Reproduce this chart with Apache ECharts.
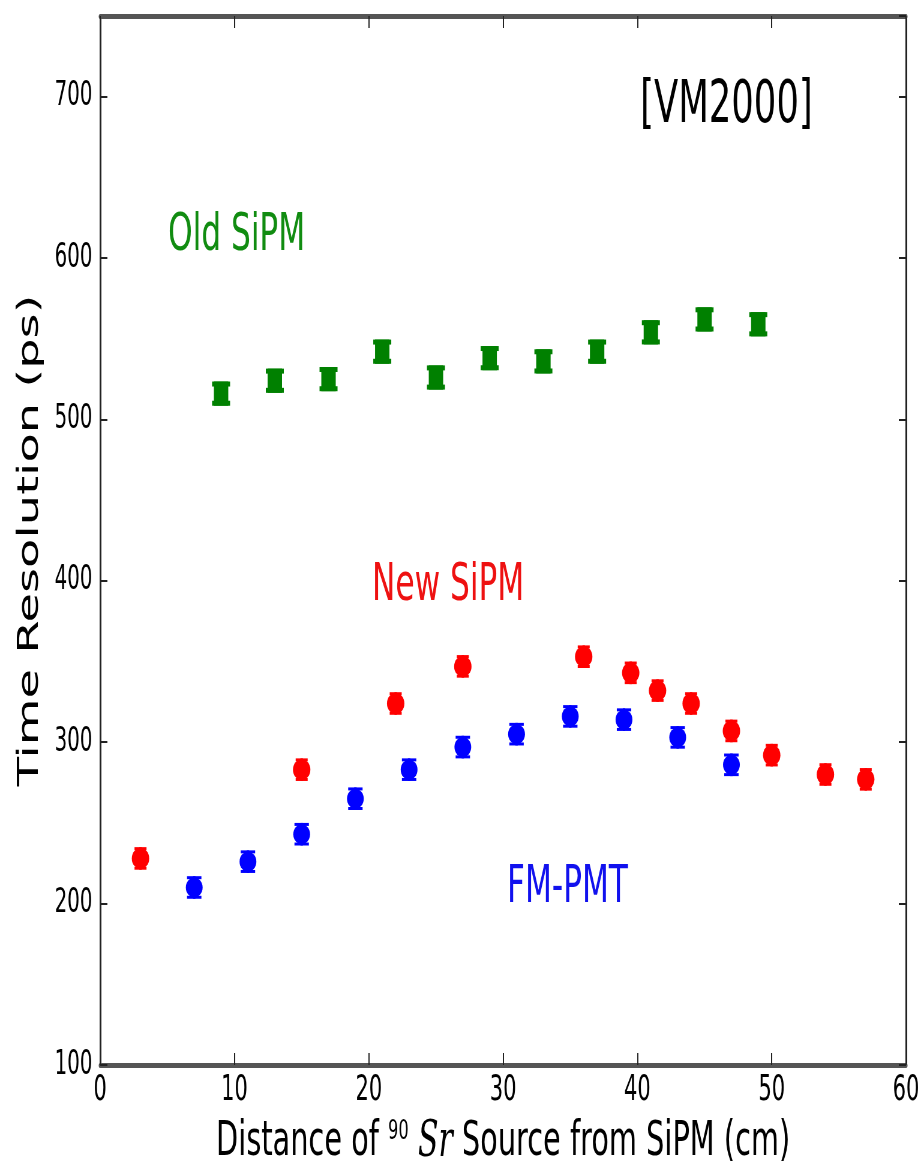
<!DOCTYPE html>
<html><head><meta charset="utf-8">
<script src="https://cdn.jsdelivr.net/npm/echarts@6/dist/echarts.min.js"></script>
<style>
html,body{margin:0;padding:0;background:#fff;overflow:hidden;}
#wrap{width:923px;height:1169px;overflow:hidden;position:relative;background:#fff;}
#chart{width:1538px;height:1169px;transform:scaleX(0.6);transform-origin:0 0;}
</style></head><body>
<div id="wrap"><div id="chart"></div></div>
<script>
// ---- data ----
const oldX   = [9, 13, 17, 21, 25, 29, 33, 37, 41, 45, 49];
const oldY   = [516, 524, 525, 542, 526, 538, 536, 542, 554, 562, 559];
const oldErr = [7.5, 7.5, 7.5, 7.5, 7.5, 7.5, 7.5, 7.5, 7.5, 7.5, 7.5];

const newX   = [3, 15, 22, 27, 36, 39.5, 41.5, 44, 47, 50, 54, 57];
const newY   = [228, 283, 324, 347, 353, 343, 332, 324, 307, 292, 280, 277];
const newErr = [7, 7, 7, 7, 7, 7, 7, 7, 7, 7, 7, 7];

const pmtX   = [7, 11, 15, 19, 23, 27, 31, 35, 39, 43, 47];
const pmtY   = [210, 226, 243, 265, 283, 297, 305, 316, 314, 303, 286];
const pmtErr = [7, 7, 7, 7, 7, 7, 7, 7, 7, 7, 7];

const xTickValues = [0, 10, 20, 30, 40, 50, 60];
const yTickValues = [100, 200, 300, 400, 500, 600, 700];

const labels = {
  tag: '[VM2000]', old: 'Old SiPM', neu: 'New SiPM', pmt: 'FM-PMT'
};
// ----------------------------------------

const FONT = 'DejaVu Sans';
function pts(xs, ys) { return xs.map((x, i) => [x, ys[i]]); }
function errPts(xs, ys, es) { return xs.map((x, i) => [x, ys[i], es[i]]); }

function errRender(color, capW, capH, bodyW) {
  return function (params, api) {
    const x = api.value(0), y = api.value(1), e = api.value(2);
    const top = api.coord([x, y + e]);
    const bot = api.coord([x, y - e]);
    return {
      type: 'group',
      children: [
        { type: 'rect', shape: { x: top[0] - bodyW / 2, y: top[1], width: bodyW, height: bot[1] - top[1] }, style: { fill: color } },
        { type: 'rect', shape: { x: top[0] - capW / 2, y: top[1], width: capW, height: capH }, style: { fill: color } },
        { type: 'rect', shape: { x: bot[0] - capW / 2, y: bot[1] - capH, width: capW, height: capH }, style: { fill: color } }
      ]
    };
  };
}

const axisLineH = { show: true, onZero: false, lineStyle: { color: '#555', width: 5 } };
const axisLineV = { show: true, onZero: false, lineStyle: { color: '#222', width: 3 } };

const chart = echarts.init(document.getElementById('chart'));
chart.setOption({
  animation: false,
  backgroundColor: '#fff',
  grid: { left: 167, right: 28, top: 16, bottom: 104, containLabel: false, outerBoundsMode: 'none' },
  xAxis: [{
    type: 'value', min: 0, max: 60, interval: 10, position: 'bottom',
    axisLine: axisLineH,
    axisTick: { inside: true, length: 12, lineStyle: { color: '#222', width: 2 } },
    splitLine: { show: false },
    axisLabel: { fontSize: 35, color: '#000', fontFamily: FONT, margin: 8,
      formatter: v => xTickValues.includes(v) ? String(v) : '' },
    name: '{a|Distance of }{sup|90}{a| }{it|Sr}{a| Source from SiPM (cm)}',
    nameLocation: 'middle', nameGap: 53,
    nameTextStyle: {
      rich: {
        a: { fontSize: 48, fontFamily: FONT, color: '#000' },
        sup: { fontSize: 27, fontFamily: FONT, color: '#000', verticalAlign: 'top' },
        it: { fontSize: 50, fontFamily: 'DejaVu Serif', fontStyle: 'italic', color: '#000' }
      }
    }
  }, {
    type: 'value', min: 0, max: 60, interval: 10, position: 'top',
    axisLine: axisLineH,
    axisTick: { inside: true, length: 12, lineStyle: { color: '#222', width: 2 } },
    splitLine: { show: false }, axisLabel: { show: false }
  }],
  yAxis: [{
    type: 'value', min: 100, max: 750, interval: 100, position: 'left',
    axisLine: axisLineV,
    axisTick: { inside: true, length: 12, lineStyle: { color: '#222', width: 2 } },
    splitLine: { show: false },
    axisLabel: { fontSize: 33, color: '#000', fontFamily: FONT, margin: 13, showMaxLabel: false,
      formatter: v => yTickValues.includes(v) ? String(v) : '' },
    name: 'Time Resolution (ps)', nameLocation: 'middle', nameGap: 92,
    nameTextStyle: { fontSize: 48, fontFamily: FONT, color: '#000' }
  }, {
    type: 'value', min: 100, max: 750, interval: 100, position: 'right',
    axisLine: axisLineV,
    axisTick: { inside: true, length: 12, lineStyle: { color: '#222', width: 2 } },
    splitLine: { show: false }, axisLabel: { show: false }
  }],
  graphic: [
    { type: 'text', x: 1067, y: 107, style: { text: labels.tag, fontSize: 59, fontFamily: FONT, fill: '#000', align: 'left', verticalAlign: 'middle' } },
    { type: 'text', x: 280, y: 236, style: { text: labels.old, fontSize: 52, fontFamily: FONT, fill: '#118c11', align: 'left', verticalAlign: 'middle' } },
    { type: 'text', x: 620, y: 586, style: { text: labels.neu, fontSize: 52, fontFamily: FONT, fill: '#ee1111', align: 'left', verticalAlign: 'middle' } },
    { type: 'text', x: 845, y: 888, style: { text: labels.pmt, fontSize: 52, fontFamily: FONT, fill: '#1111ee', align: 'left', verticalAlign: 'middle' } }
  ],
  series: [
    { type: 'custom', name: 'Old SiPM', xAxisIndex: 0, yAxisIndex: 0, z: 3,
      renderItem: errRender('#008000', 30, 5, 24), data: errPts(oldX, oldY, oldErr) },
    { type: 'custom', name: 'New SiPM err', z: 3,
      renderItem: errRender('#ff0000', 20, 3, 4), data: errPts(newX, newY, newErr) },
    { type: 'custom', name: 'FM-PMT err', z: 3,
      renderItem: errRender('#0000ff', 24, 3, 4), data: errPts(pmtX, pmtY, pmtErr) },
    { type: 'scatter', name: 'New SiPM', z: 4, symbol: 'circle', symbolSize: [29, 21],
      itemStyle: { color: '#ff0000', opacity: 1 }, data: pts(newX, newY) },
    { type: 'scatter', name: 'FM-PMT', z: 4, symbol: 'circle', symbolSize: [28, 20],
      itemStyle: { color: '#0000ff', opacity: 1 }, data: pts(pmtX, pmtY) }
  ]
});
</script>
</body></html>
